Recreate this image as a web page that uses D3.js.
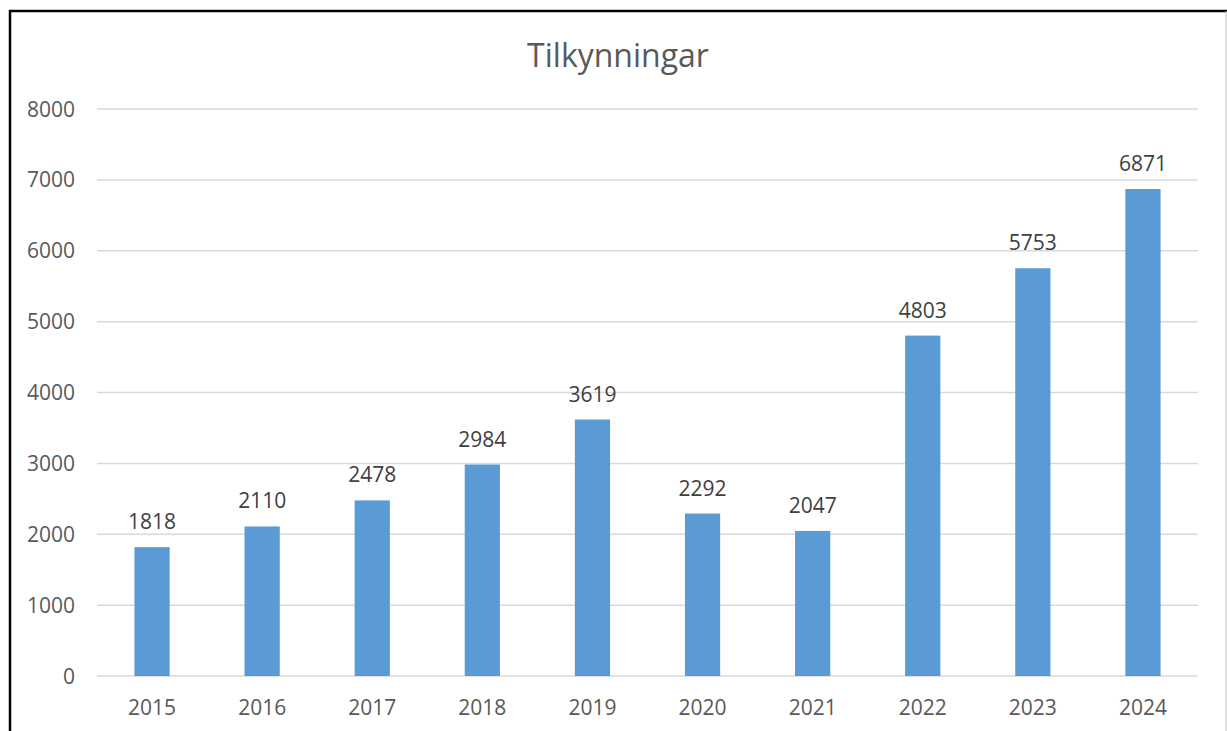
<!DOCTYPE html>
<html>
<head>
<meta charset="utf-8">
<script src="https://d3js.org/d3.v7.min.js"></script>
<style>
  body { margin: 0; background: #fff; }
  text { font-family: "Open Sans", sans-serif; fill: #595959; }
</style>
</head>
<body>
<svg id="chart" width="1227" height="731"></svg>
<script>
var years = ["2015", "2016", "2017", "2018", "2019", "2020", "2021", "2022", "2023", "2024"];
var counts = [1818, 2110, 2478, 2984, 3619, 2292, 2047, 4803, 5753, 6871];
var yTicks = [0, 1000, 2000, 3000, 4000, 5000, 6000, 7000, 8000];

var svg = d3.select("#chart");

// frame of the chart box
svg.append("line").attr("x1", 10).attr("x2", 10).attr("y1", 10).attr("y2", 731)
  .attr("stroke", "#000").attr("stroke-width", 2.5);
svg.append("line").attr("x1", 9).attr("x2", 1227).attr("y1", 11).attr("y2", 11)
  .attr("stroke", "#000").attr("stroke-width", 2.5);
svg.append("line").attr("x1", 1226).attr("x2", 1226).attr("y1", 11).attr("y2", 731)
  .attr("stroke", "#bfbfbf").attr("stroke-width", 1);

var plotL = 97, plotR = 1198, plotT = 109, plotB = 676;

var x = d3.scaleBand().domain(years).range([plotL, plotR])
  .paddingInner(0.68).paddingOuter(0.34);
var y = d3.scaleLinear().domain([0, 8000]).range([plotB, plotT]);

// gridlines
svg.append("g").selectAll("line").data(yTicks).enter().append("line")
  .attr("x1", plotL).attr("x2", plotR)
  .attr("y1", function(d) { return y(d); })
  .attr("y2", function(d) { return y(d); })
  .attr("stroke", "#d9d9d9").attr("stroke-width", 1.5);

// y labels
svg.append("g").selectAll("text").data(yTicks).enter().append("text")
  .attr("x", 75).attr("y", function(d) { return y(d) + 7.5; })
  .attr("text-anchor", "end").style("font-size", "21px")
  .text(function(d) { return d; });

// bars
svg.append("g").selectAll("rect").data(counts).enter().append("rect")
  .attr("x", function(d, i) { return x(years[i]); })
  .attr("width", x.bandwidth())
  .attr("y", function(d) { return y(d); })
  .attr("height", function(d) { return y(0) - y(d); })
  .attr("fill", "#5b9bd5");

// data labels
svg.append("g").selectAll("text").data(counts).enter().append("text")
  .attr("x", function(d, i) { return x(years[i]) + x.bandwidth() / 2; })
  .attr("y", function(d) { return y(d) - 18; })
  .attr("text-anchor", "middle").style("font-size", "21px").style("fill", "#404040")
  .text(function(d) { return d; });

// x labels
svg.append("g").selectAll("text").data(years).enter().append("text")
  .attr("x", function(d) { return x(d) + x.bandwidth() / 2; })
  .attr("y", 715)
  .attr("text-anchor", "middle").style("font-size", "21px")
  .text(function(d) { return d; });

svg.append("text").attr("x", 618).attr("y", 67)
  .attr("text-anchor", "middle").style("font-size", "32px")
  .text("Tilkynningar");
</script>
</body>
</html>
